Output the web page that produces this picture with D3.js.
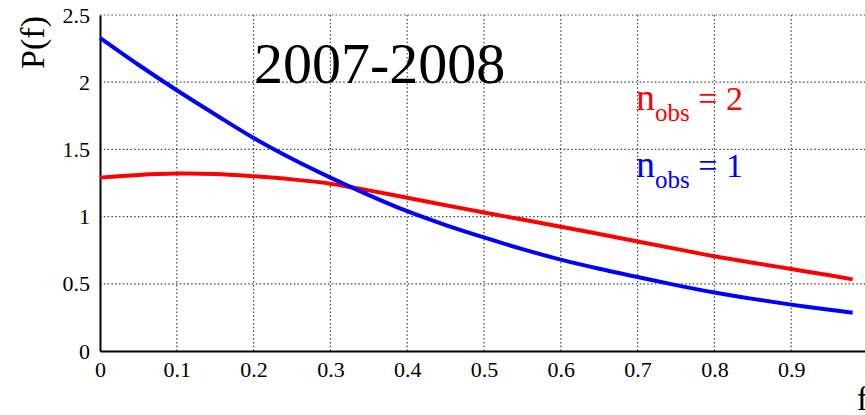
<!DOCTYPE html>
<html>
<head>
<meta charset="utf-8">
<script src="https://cdn.jsdelivr.net/npm/d3@7"></script>
<style>
  html, body { margin: 0; padding: 0; background: #fff; }
  svg { display: block; }
  text { font-family: "Liberation Serif", "Times New Roman", serif; }
</style>
</head>
<body>
<svg id="chart" width="865" height="415"></svg>
<script>
// Probability density P(f) for the 2007-2008 sample
const fValues = [0, 0.05, 0.1, 0.15, 0.2, 0.25, 0.3, 0.35, 0.4, 0.45, 0.5,
                 0.55, 0.6, 0.65, 0.7, 0.75, 0.8, 0.85, 0.9, 0.95, 0.98];
const pObs1 = [2.33, 2.13, 1.94, 1.76, 1.585, 1.43, 1.29, 1.16, 1.04, 0.937, 0.845,
               0.758, 0.68, 0.612, 0.55, 0.49, 0.435, 0.388, 0.345, 0.307, 0.285];
const pObs2 = [1.29, 1.31, 1.32, 1.317, 1.30, 1.277, 1.245, 1.195, 1.14, 1.085, 1.03,
               0.978, 0.925, 0.87, 0.815, 0.76, 0.705, 0.657, 0.61, 0.563, 0.533];
const xTicks = [0, 0.1, 0.2, 0.3, 0.4, 0.5, 0.6, 0.7, 0.8, 0.9, 1];
const xTickLabels = ["0", "0.1", "0.2", "0.3", "0.4", "0.5", "0.6", "0.7", "0.8", "0.9", "1"];
const yTicks = [0, 0.5, 1, 1.5, 2, 2.5];
const yTickLabels = ["0", "0.5", "1", "1.5", "2", "2.5"];
const title = "2007-2008";

const svg = d3.select("#chart");
const x = d3.scaleLinear().domain([0, 1]).range([100, 868]);
const y = d3.scaleLinear().domain([0, 2.5]).range([351, 15]);

// dotted grid
const grid = svg.append("g");
grid.selectAll("line.v").data(xTicks.filter(d => d > 0)).join("line")
  .attr("x1", d => x(d)).attr("x2", d => x(d))
  .attr("y1", y(0)).attr("y2", y(2.5))
  .attr("stroke", "#444").attr("stroke-width", 1.2)
  .attr("stroke-dasharray", "1.5,2.3");
grid.selectAll("line.h").data(yTicks.filter(d => d > 0)).join("line")
  .attr("x1", x(0)).attr("x2", x(1))
  .attr("y1", d => y(d)).attr("y2", d => y(d))
  .attr("stroke", "#444").attr("stroke-width", 1.2)
  .attr("stroke-dasharray", "1.5,2.3");

// axes
const xAxis = d3.axisBottom(x).tickValues(xTicks)
  .tickFormat((d, i) => xTickLabels[i]).tickSize(0).tickPadding(10);
const gx = svg.append("g").attr("transform", `translate(0,${y(0)})`).call(xAxis);
gx.attr("font-family", null);
gx.select(".domain").attr("stroke", "#000").attr("stroke-width", 2);
gx.selectAll("text").attr("font-size", 22).attr("fill", "#000");

const yAxis = d3.axisLeft(y).tickValues(yTicks)
  .tickFormat((d, i) => yTickLabels[i]).tickSize(0).tickPadding(10);
const gy = svg.append("g").attr("transform", `translate(${x(0)},0)`).call(yAxis);
gy.attr("font-family", null);
gy.select(".domain").attr("stroke", "#000").attr("stroke-width", 2);
gy.selectAll("text").attr("font-size", 22).attr("fill", "#000");

// curves
const line = d3.line().x((d, i) => x(fValues[i])).y(d => y(d)).curve(d3.curveCatmullRom);
svg.append("path").datum(pObs2).attr("d", line)
  .attr("fill", "none").attr("stroke", "#ff0000").attr("stroke-width", 4);
svg.append("path").datum(pObs1).attr("d", line)
  .attr("fill", "none").attr("stroke", "#0000ff").attr("stroke-width", 4);

// axis titles
svg.append("text").attr("transform", "translate(44,16) rotate(-90)")
  .attr("text-anchor", "end").attr("font-size", 34).text("P(f)");
svg.append("text").attr("x", 868).attr("y", 410).attr("text-anchor", "end")
  .attr("font-size", 34).text("f");

// title
svg.append("text").attr("x", 254).attr("y", 83).attr("font-size", 58).text(title);

// series labels
function seriesLabel(yBase, color, n) {
  const t = svg.append("text").attr("x", 636).attr("y", yBase).attr("fill", color)
    .attr("font-size", 34);
  t.append("tspan").attr("font-size", 38).text("n");
  t.append("tspan").attr("font-size", 25).attr("dy", 11).text("obs");
  t.append("tspan").attr("dy", -11).text(" = " + n);
}
seriesLabel(110, "#ff0000", 2);
seriesLabel(177, "#0000ff", 1);
</script>
</body>
</html>
